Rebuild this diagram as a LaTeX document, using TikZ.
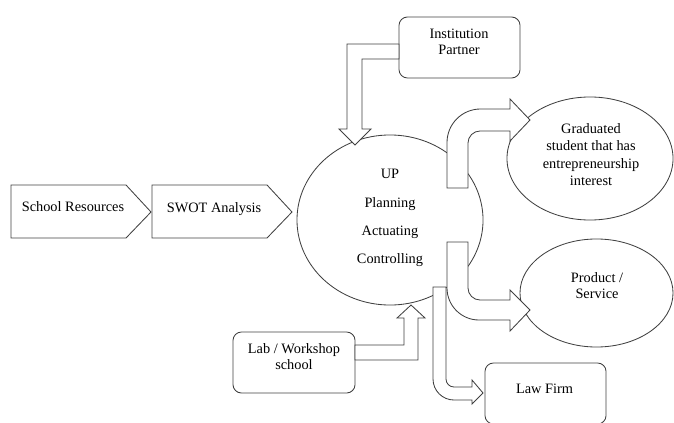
\documentclass[tikz,border=0pt]{standalone}
\usepackage{fontspec}
\setmainfont{Liberation Serif}
\usetikzlibrary{shapes.geometric}
\definecolor{linegray}{RGB}{64,64,64}

\begin{document}
\begin{tikzpicture}[x=0.025cm, y=0.025cm,
  boxshape/.style={draw=linegray, line width=0.6pt, rounded corners=6pt, minimum width=3.025cm, minimum height=1.525cm, inner sep=0pt, outer sep=0pt},
  ovalshape/.style={ellipse, draw=linegray, line width=0.6pt, inner sep=0pt, outer sep=0pt},
  pentagon/.style={draw=linegray, line width=0.6pt},
  blockarrow/.style={draw=linegray, line width=0.6pt, fill=white, line join=miter},
  txt/.style={align=center, inner sep=0pt, font=\fontsize{10.2}{11.5}\selectfont}]

\useasboundingbox (0,0) rectangle (674,422);
\clip (0,0) rectangle (674,422);

\node[boxshape] (inst) at (459.5,374.5) {};
\node[boxshape, minimum width=3.05cm] (lab) at (294,59.5) {};
\node[boxshape] (law) at (545.5,28.5) {};

\node[ovalshape, minimum width=4.65cm, minimum height=4.25cm] (up) at (390,202) {};
\node[ovalshape, minimum width=4.15cm, minimum height=3.075cm] (grad) at (590,263.5) {};
\node[ovalshape, minimum width=3.825cm, minimum height=2.7cm] (prod) at (596.5,129) {};

\draw[pentagon] (11,184)--++(115,0)--++(25,26)--++(-25,27)--++(-115,0)--cycle;
\draw[pentagon] (152,184)--++(115,0)--++(25,26)--++(-25,27)--++(-115,0)--cycle;

% block arrows
\draw[blockarrow] (inst.west) ++(0,3.5) --++(-52,0) --++(0,-85) --++(-8,0) --++(16,-16) --++(16,16) --++(-9,0) --++(0,70) --++(37,0) --cycle;

\draw[blockarrow] (lab.east) ++(0,17.5) --++(49,0) --++(0,27) --++(-7,0) --++(14,13) --++(14,-13) --++(-7,0) --++(0,-42) --++(-63,0) --cycle;

\coordinate (lawtop) at (433,135);
\draw[blockarrow] (lawtop) --++(13,0) --++(0,-92) arc[start angle=180, end angle=270, radius=8] --++(18,0) --++(0,7) --++(11,-13) --++(-11,-11) --++(0,4) --++(-18,0) arc[start angle=270, end angle=180, radius=21] --cycle;

\coordinate (prodtop) at (447,180);
\draw[blockarrow] (prodtop) --++(21,0) --++(0,-46) arc[start angle=180, end angle=270, radius=12] --++(30,0) --++(0,10) --++(20,-20) --++(-20,-21) --++(0,11) --++(-31,0) arc[start angle=270, end angle=180, radius=32] --cycle;

\coordinate (gradfoot) at (447,234);
\draw[blockarrow] (gradfoot) --++(0,45.5) arc[start angle=180, end angle=90, radius=33.5] --++(29.5,0) --++(0,10) --++(20,-21) --++(-20,-21) --++(0,10) --++(-30,0) arc[start angle=90, end angle=180, radius=12] --++(0,-45) --cycle;

\node[txt] (schooltxt) at (73,215) {School Resources};
\node[txt] (swottxt) at (214,213) {SWOT Analysis};
\node[txt, font=\fontsize{10.2}{20}\selectfont] (uptxt) at (390,204) {UP\\Planning\\Actuating\\Controlling};
\node[txt] (insttxt) at (459,380) {Institution\\Partner};
\node[txt, font=\fontsize{10.2}{12.5}\selectfont] (gradtxt) at (591,267.5) {Graduated\\student that has\\entrepreneurship\\interest};
\node[txt] (prodtxt) at (597,136) {Product /\\Service};
\node[txt] (lawtxt) at (544.5,33.5) {Law Firm};
\node[txt] (labtxt) at (294,65) {Lab / Workshop\\school};

\end{tikzpicture}
\end{document}
